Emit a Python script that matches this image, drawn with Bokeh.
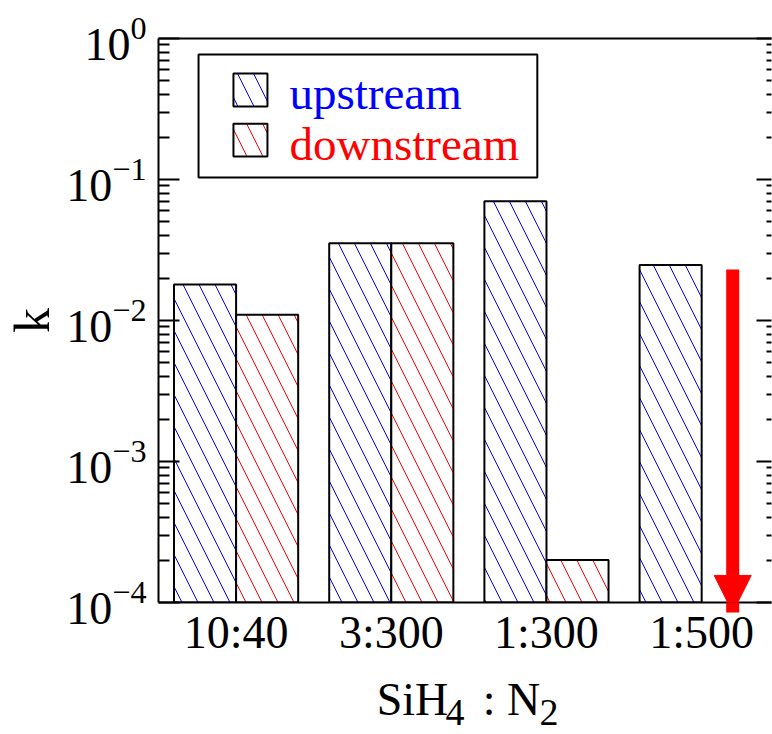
from bokeh.plotting import figure
from bokeh.models import (Range1d, LogAxis, LinearAxis, FixedTicker, ColumnDataSource,
                          BoxAnnotation, Label, Arrow, NormalHead)
from bokeh.transform import dodge
from bokeh.embed import file_html
from bokeh.resources import INLINE

# ---- data ----
categories = ["10:40", "3:300", "1:300", "1:500"]
upstream = [0.018, 0.0353, 0.070, 0.0248]
downstream = [0.011, 0.0353, 0.0002, None]   # 1:500 is below the axis range -> arrow
downstream_arrow_cat = ["1:500"]
downstream_arrow_top = [0.023]                # arrow for 1:500 downstream
downstream_arrow_end = [8.5e-5]
y_min, y_max = 1e-4, 1.0
y_ticks = [1e-4, 1e-3, 1e-2, 1e-1, 1.0]
y_minor = [m * 10.0 ** e for e in range(-4, 0) for m in range(2, 10)]
series_names = ["upstream", "downstream"]
series_colors = ["#0000ff", "#ff0000"]
x_title_main = ["SiH", ": N"]    # x-axis title "SiH4 : N2", main text parts
x_title_sub = ["4", "2"]         # its subscripts

FONT = "Liberation Serif"
TICK_FS = "46px"
OFF = 0.2
HATCH = 32

p = figure(width=772, height=734, y_axis_type="log",
           x_range=Range1d(-0.5, 3.45), y_range=Range1d(y_min, y_max),
           output_backend="svg", toolbar_location=None,
           min_border_left=158, min_border_right=1, min_border_top=38, min_border_bottom=132,
           background_fill_color="white", border_fill_color="white",
           outline_line_color=None)
p.xgrid.visible = False
p.ygrid.visible = False

# x axis
xa = p.xaxis[0]
xa.ticker = FixedTicker(ticks=list(range(len(categories))))
xa.major_label_overrides = {i: c for i, c in enumerate(categories)}
xa.major_tick_in = 0
xa.major_tick_out = 0
xa.minor_tick_in = 0
xa.minor_tick_out = 0
xa.axis_line_width = 2
xa.axis_line_color = "black"
xa.major_label_text_font = FONT
xa.major_label_text_font_size = TICK_FS
xa.major_label_text_color = "black"
xa.major_label_standoff = 4

# x-axis title "SiH4 : N2" built from two tick-label-only axes (main text + subscripts)
title_pos_main = [1.137, 1.775]
title_pos_sub = [1.410, 2.016]
t_main = LinearAxis(ticker=FixedTicker(ticks=title_pos_main),
                    major_label_overrides=dict(zip(title_pos_main, x_title_main)),
                    major_label_text_font=FONT, major_label_text_font_size="46px",
                    major_label_text_color="black", major_label_standoff=13,
                    major_tick_in=0, major_tick_out=0, minor_tick_in=0, minor_tick_out=0,
                    axis_line_color=None)
t_sub = LinearAxis(ticker=FixedTicker(ticks=title_pos_sub),
                   major_label_overrides=dict(zip(title_pos_sub, x_title_sub)),
                   major_label_text_font=FONT, major_label_text_font_size="38px",
                   major_label_text_color="black", major_label_standoff=-28,
                   major_tick_in=0, major_tick_out=0, minor_tick_in=0, minor_tick_out=0,
                   axis_line_color=None)
p.add_layout(t_main, "below")
p.add_layout(t_sub, "below")

# y axis (left)
ya = p.yaxis[0]
ya.ticker = FixedTicker(ticks=y_ticks, minor_ticks=y_minor)
ya.major_tick_in = 21
ya.major_tick_out = 0
ya.minor_tick_in = 11
ya.minor_tick_out = 0
ya.major_tick_line_width = 2
ya.minor_tick_line_width = 2
ya.major_tick_line_color = "black"
ya.minor_tick_line_color = "black"
ya.axis_line_width = 2
ya.axis_line_color = "black"
ya.major_label_text_font = FONT
ya.major_label_text_font_size = TICK_FS
ya.major_label_text_color = "black"
ya.major_label_standoff = 12
ya.axis_label = "k"
ya.axis_label_text_font = FONT
ya.axis_label_text_font_size = "50px"
ya.axis_label_text_font_style = "normal"
ya.axis_label_text_color = "black"
ya.axis_label_standoff = 3

# right axis: ticks only
ra = LogAxis(ticker=FixedTicker(ticks=y_ticks, minor_ticks=y_minor),
             major_label_text_font_size="1px", major_label_text_color=None,
             major_label_standoff=0,
             major_tick_in=15, major_tick_out=0, minor_tick_in=5, minor_tick_out=0,
             major_tick_line_width=2, minor_tick_line_width=2,
             major_tick_line_color="black", minor_tick_line_color="black",
             axis_line_color=None)
p.add_layout(ra, "right")

# top line
ta = LinearAxis(ticker=FixedTicker(ticks=[0]), major_label_overrides={0: " "},
                major_label_text_font_size="1px", major_label_text_color=None,
                major_tick_in=0, major_tick_out=0, minor_tick_in=0, minor_tick_out=0,
                axis_line_width=2, axis_line_color="black")
p.add_layout(ta, "above")

# bars
idx = list(range(len(categories)))
src_up = ColumnDataSource(dict(x=idx, top=upstream))
dn_idx = [i for i, v in zip(idx, downstream) if v is not None]
dn_val = [v for v in downstream if v is not None]
src_dn = ColumnDataSource(dict(x=dn_idx, top=dn_val))

for src, off, col in [(src_up, -OFF, series_colors[0]), (src_dn, OFF, series_colors[1])]:
    p.vbar(x=dodge("x", off), top="top", bottom=y_min, width=0.4, source=src,
           fill_color="white", line_color="black", line_width=2,
           hatch_pattern="\\", hatch_color=col, hatch_scale=HATCH, hatch_weight=1)

# arrow: downstream value for 1:500 is below 1e-4
ax_x = [categories.index(c) + OFF for c in downstream_arrow_cat]
arrow_src = ColumnDataSource(dict(x=ax_x, y0=downstream_arrow_top, y1=downstream_arrow_end))
p.add_layout(Arrow(source=arrow_src, x_start="x", y_start="y0", x_end="x", y_end="y1",
                   line_color="#ff0000", line_width=13,
                   end=NormalHead(size=37, fill_color="#ff0000", line_color="#ff0000", line_width=1)))

# legend (manual, to colour each label)
p.add_layout(BoxAnnotation(left=-0.242, right=1.941, bottom=0.1033, top=0.770,
                           fill_color="white", fill_alpha=1.0,
                           line_color="black", line_width=2, line_alpha=1.0))
sw_y = [(0.330, 0.565), (0.1456, 0.249)]
txt_y = [0.408, 0.180]
for (b, t), ty, name, col in zip(sw_y, txt_y, series_names, series_colors):
    p.add_layout(BoxAnnotation(left=-0.017, right=0.202, bottom=b, top=t,
                               fill_color="white", fill_alpha=1.0,
                               line_color="black", line_width=2, line_alpha=1.0,
                               hatch_pattern="\\", hatch_color=col, hatch_scale=HATCH,
                               hatch_weight=1, hatch_alpha=1.0))
    p.add_layout(Label(x=0.344, y=ty, text=name, text_color=col, text_font=FONT,
                       text_font_size="47px", text_baseline="alphabetic"))

open("out.html", "w").write(file_html(p, INLINE))
